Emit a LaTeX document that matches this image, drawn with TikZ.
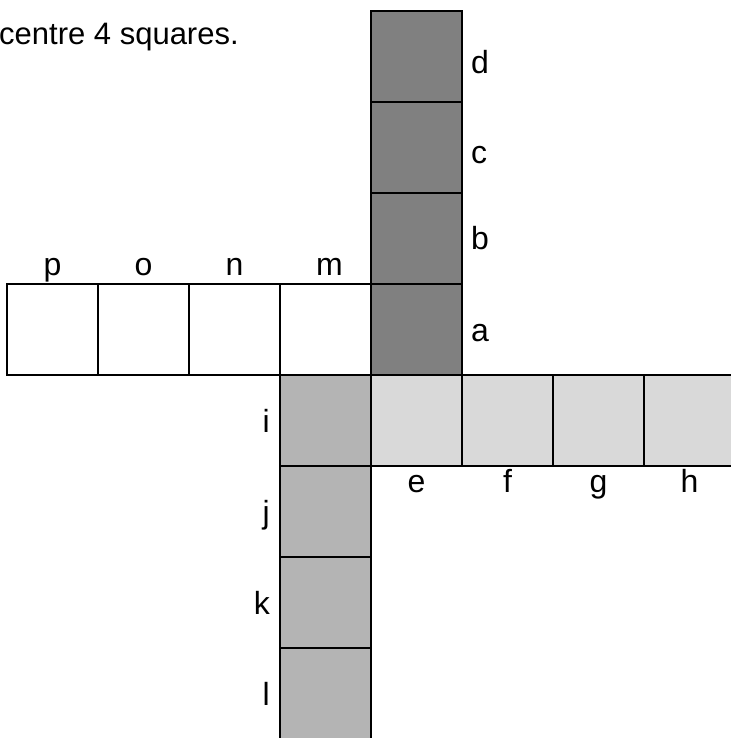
\documentclass[tikz,border=0pt]{standalone}
\usepackage{fontspec}
\setmainfont{Liberation Sans}
\usepackage{xcolor}
\definecolor{darkgrey}{HTML}{808080}
\definecolor{midgrey}{HTML}{B4B4B4}
\definecolor{lightgrey}{HTML}{D9D9D9}
\begin{document}
\begin{tikzpicture}[x=1pt,y=-1pt,sq/.style={draw=black,line width=2.2pt,minimum size=91pt,inner sep=0pt,outer sep=0pt},up/.style={sq,fill=darkgrey},right/.style={sq,fill=lightgrey},down/.style={sq,fill=midgrey},left/.style={sq,fill=white},tag/.style={font=\fontsize{32}{38}\selectfont,inner sep=0pt}]
\useasboundingbox (0,0) rectangle (730,738);
\node[tag,anchor=base west,font=\fontsize{31}{37}\selectfont] (note) at (-1,45) {centre 4 squares.};
\node[left] (p) at (52.5,329.5) {};
\node[left] (o) at (143.5,329.5) {};
\node[left] (n) at (234.5,329.5) {};
\node[left] (m) at (325.5,329.5) {};
\node[up] (a) at (416.5,329.5) {};
\node[up] (b) at (416.5,238.5) {};
\node[up] (c) at (416.5,147.5) {};
\node[up] (d) at (416.5,56.5) {};
\node[right] (e) at (416.5,420.5) {};
\node[right] (f) at (507.5,420.5) {};
\node[right] (g) at (598.5,420.5) {};
\node[right] (h) at (689.5,420.5) {};
\node[down] (i) at (325.5,420.5) {};
\node[down] (j) at (325.5,511.5) {};
\node[down] (k) at (325.5,602.5) {};
\node[down] (l) at (325.5,693.5) {};
\node[tag,anchor=base west] (la) at ([xshift=9pt,yshift=-12pt]a.east) {a};
\node[tag,anchor=base west] (lb) at ([xshift=9pt,yshift=-11pt]b.east) {b};
\node[tag,anchor=base west] (lc) at ([xshift=9pt,yshift=-16pt]c.east) {c};
\node[tag,anchor=base west] (ld) at ([xshift=9pt,yshift=-17pt]d.east) {d};
\node[tag,anchor=base] (le) at ([yshift=-26pt]e.south) {e};
\node[tag,anchor=base] (lf) at ([yshift=-26pt]f.south) {f};
\node[tag,anchor=base] (lg) at ([yshift=-26pt]g.south) {g};
\node[tag,anchor=base] (lh) at ([yshift=-26pt]h.south) {h};
\node[tag,anchor=base east] (li) at ([xshift=-10pt,yshift=-12pt]i.west) {i};
\node[tag,anchor=base east] (lj) at ([xshift=-10pt,yshift=-12pt]j.west) {j};
\node[tag,anchor=base east] (lk) at ([xshift=-10pt,yshift=-12pt]k.west) {k};
\node[tag,anchor=base east] (ll) at ([xshift=-10pt,yshift=-12pt]l.west) {l};
\node[tag,anchor=base] (lm) at ([xshift=4pt,yshift=9pt]m.north) {m};
\node[tag,anchor=base] (ln) at ([yshift=9pt]n.north) {n};
\node[tag,anchor=base] (lo) at ([yshift=9pt]o.north) {o};
\node[tag,anchor=base] (lp) at ([yshift=9pt]p.north) {p};
\end{tikzpicture}
\end{document}
